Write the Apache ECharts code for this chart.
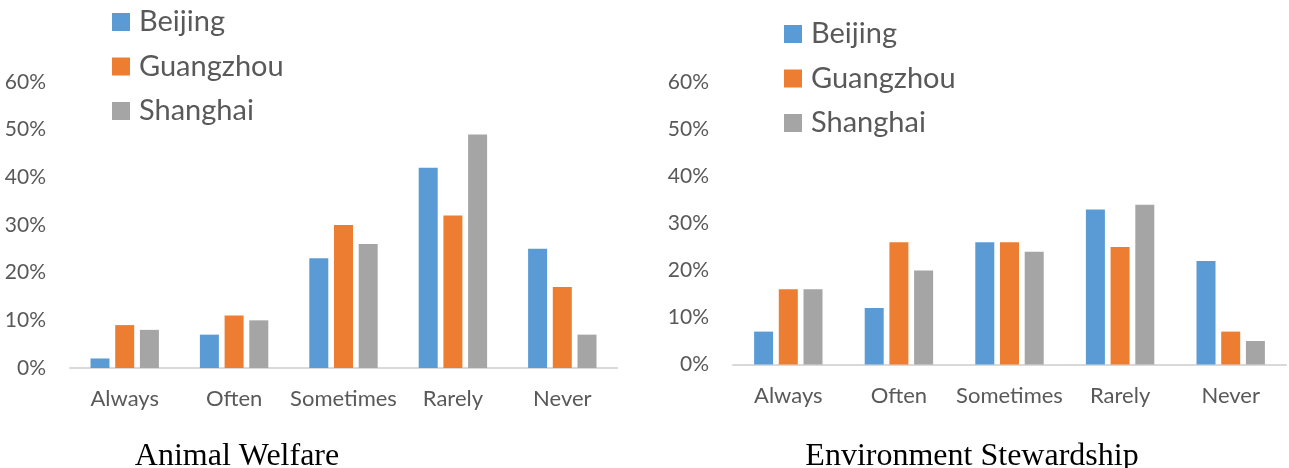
<!DOCTYPE html>
<html>
<head>
<meta charset="utf-8">
<style>
  html, body { margin: 0; padding: 0; background: #fff; }
  #chart { width: 1289px; height: 468px; }
</style>
<script src="https://cdn.jsdelivr.net/npm/echarts@6/dist/echarts.min.js"></script>
</head>
<body>
<div id="chart"></div>
<script>
// Survey answers per city, share of respondents
const categories = ['Always', 'Often', 'Sometimes', 'Rarely', 'Never'];
const cities = ['Beijing', 'Guangzhou', 'Shanghai'];
const cityColors = ['#5B9BD5', '#ED7D31', '#A5A5A5'];

const animalBeijing   = [2, 7, 23, 42, 25];
const animalGuangzhou = [9, 11, 30, 32, 17];
const animalShanghai  = [8, 10, 26, 49, 7];

const envBeijing   = [7, 12, 26, 33, 22];
const envGuangzhou = [16, 26, 26, 25, 7];
const envShanghai  = [16, 20, 24, 34, 5];

const panelTitles = ['Animal Welfare', 'Environment Stewardship'];

const TEXT = '#595959';
const FONT = 'Lato, "Open Sans", sans-serif';

const panels = [
  { title: panelTitles[0], data: [animalBeijing, animalGuangzhou, animalShanghai] },
  { title: panelTitles[1], data: [envBeijing, envGuangzhou, envShanghai] }
];

const grids = [
  { left: 70, top: 82, width: 547, height: 286 },
  { left: 733, top: 82.5, width: 553, height: 282 }
];

const option = {
  animation: false,
  backgroundColor: '#fff',
  color: cityColors,
  title: panels.map((p, i) => ({
    text: p.title,
    left: i === 0 ? 237 : 972,
    top: 441,
    padding: 0,
    textAlign: 'center',
    textStyle: { fontFamily: '"Liberation Serif", "Times New Roman", serif', fontSize: 32, fontWeight: 'normal', color: '#000' }
  })),
  legend: [
    { left: 112, top: 7 },
    { left: 784, top: 19 }
  ].map(pos => ({
    data: cities,
    orient: 'vertical',
    left: pos.left,
    top: pos.top,
    icon: 'rect',
    itemWidth: 18,
    itemHeight: 18,
    itemGap: 14.5,
    textStyle: { fontFamily: FONT, fontSize: 29, color: TEXT, lineHeight: 30, padding: [0, 0, 0, 4] },
    padding: 0
  })),
  grid: grids,
  xAxis: grids.map((g, i) => ({
    type: 'category',
    gridIndex: i,
    data: categories,
    axisLine: { lineStyle: { color: '#D9D9D9', width: 2 } },
    axisTick: { show: false },
    axisLabel: { color: TEXT, fontFamily: FONT, fontSize: 22, margin: 20, interval: 0 }
  })),
  yAxis: grids.map((g, i) => ({
    type: 'value',
    gridIndex: i,
    min: 0,
    max: 60,
    interval: 10,
    splitLine: { show: false },
    axisLine: { show: false },
    axisTick: { show: false },
    axisLabel: { color: TEXT, fontFamily: FONT, fontSize: 21, margin: 24, formatter: v => v + '%' }
  })),
  series: []
};

panels.forEach((p, pi) => {
  cities.forEach((c, ci) => {
    option.series.push({
      name: c,
      type: 'bar',
      xAxisIndex: pi,
      yAxisIndex: pi,
      data: p.data[ci],
      barWidth: 19,
      barGap: '30%',
      itemStyle: { color: cityColors[ci] }
    });
  });
});

const chart = echarts.init(document.getElementById('chart'), null, { renderer: 'canvas' });
chart.setOption(option);
</script>
</body>
</html>
